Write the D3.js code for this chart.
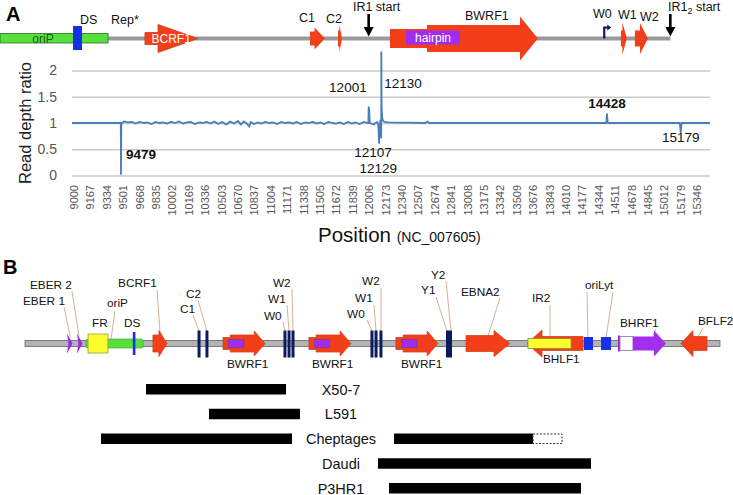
<!DOCTYPE html>
<html><head><meta charset="utf-8">
<script src="https://cdn.jsdelivr.net/npm/d3@7"></script>
<style>body{margin:0;background:#fff}svg{display:block}</style>
</head><body><svg id="c" width="733" height="495"></svg>
<script>
// ---------------- DATA ----------------
// Panel A: read depth ratio along NC_007605
const depthPos = [8980,9470,9477,9479,9482,9490,9510,9550,9590,9630,9670,9710,9750,9790,9830,9870,9910,9950,9990,10030,10070,10110,10150,10190,10230,10270,10310,10350,10390,10430,10470,10510,10550,10590,10630,10670,10700,10730,10760,10785,10800,10830,10870,10910,10950,10990,11030,11070,11110,11150,11190,11230,11270,11310,11350,11390,11430,11470,11510,11550,11590,11630,11670,11710,11750,11790,11830,11870,11910,11950,11990,11998,12001,12006,12012,12030,12050,12070,12090,12100,12107,12112,12120,12129,12130,12133,12138,12145,12160,12200,12580,12600,12620,14420,14428,14436,15170,15179,15188,15477];
const depthVal = [1.00,1.00,1.00,0.03,1.00,1.00,1.03,1.01,1.02,0.99,1.02,1.00,1.01,0.98,1.02,1.00,1.01,0.99,1.02,1.00,1.03,0.99,1.01,1.02,0.98,1.01,1.00,1.02,0.99,1.03,0.98,1.02,0.97,1.03,0.99,1.04,0.97,1.03,0.99,0.93,1.02,0.98,1.01,0.99,1.02,1.00,1.01,0.98,1.02,1.00,1.01,0.99,1.02,0.98,1.01,1.00,1.02,0.99,1.01,0.98,1.02,1.00,0.99,1.01,0.98,1.02,0.99,1.01,0.98,1.02,1.00,1.00,1.30,1.27,1.00,0.99,0.97,1.00,1.02,0.95,0.62,0.90,1.05,0.72,2.35,1.30,1.12,1.05,1.02,1.01,1.00,1.03,1.00,1.00,1.17,1.00,1.00,0.82,1.00,1.00];
const yTicks = [0, 0.5, 1, 1.5, 2];
const xTickLabels = [9000,9167,9334,9501,9668,9835,10002,10169,10336,10503,10670,10837,11004,11171,11338,11505,11672,11839,12006,12173,12340,12507,12674,12841,13008,13175,13342,13509,13676,13843,14010,14177,14344,14511,14678,14845,15012,15179,15346];
// peak annotations: label text, position, ratio of label baseline, anchor, bold
const peakLabels = [
  {t:"9479", p:9479, v:0.31, a:"start", b:true},
  {t:"12001", p:12001, v:1.59, a:"end", b:false},
  {t:"12130", p:12130, v:1.67, a:"start", b:false},
  {t:"12107", p:12107, v:0.35, a:"middle", b:false},
  {t:"12129", p:12129, v:0.05, a:"middle", b:false},
  {t:"14428", p:14428, v:1.29, a:"middle", b:true},
  {t:"15179", p:15179, v:0.64, a:"middle", b:false}
];
// Panel A genome map features (bp)
const mapA_oriP = [8247, 9347];
const mapA_DS = [8990, 9082];
const mapA_backbone = [9347, 15073];
const mapA_BCRF1 = [9723, 9856, 10263];        // start, head start, tip
const mapA_C1 = [11404, 11450, 11556];
const mapA_C2 = [11689, 11703, 11729];
const mapA_BWRF1 = [12218, 12595, 13542, 13725]; // stub start, body start, head start, tip
const mapA_hairpin = [12381, 12931];
const mapA_W0 = 14400;
const mapA_W1 = [14570, 14585, 14631];
const mapA_W2 = [14712, 14764, 14845];
const mapA_IRstarts = [12001, 15073];
const mapA_labels = [
  {t:"DS", p:9061, y:24}, {t:"Rep*", p:9377, y:24}, {t:"C1", p:11292, y:22}, {t:"C2", p:11566, y:23},
  {t:"BWRF1", p:12982, y:20}, {t:"W0", p:14285, y:18}, {t:"W1", p:14540, y:19}, {t:"W2", p:14764, y:21}
];
// Panel B genome map (kb)
const mapB_backbone = [0.42, 58.33];
const mapB_EBER = [4.13, 4.96];
const mapB_oriP = [5.5, 10.25];
const mapB_FR = [5.67, 7.33];
const mapB_DS = 9.5;
const mapB_BCRF1 = [11.08, 11.58, 12.25];
const mapB_Cp = [14.92, 15.58];
const mapB_BWRF1 = [16.92, 24.08, 31.33];
const mapB_W = [22.08, 22.42, 22.75, 29.33, 29.67, 30.08];
const mapB_Y = [35.5, 36.0];
const mapB_EBNA2 = [37.17, 39.5, 40.83];
const mapB_BHLF1 = [42.25, 43.5, 46.92];
const mapB_IR2 = [42.33, 45.92];
const mapB_oriLyt = [[47.0, 47.75], [48.42, 49.25]];
const mapB_BHRF1 = [49.83, 50.0, 51.08, 52.83, 53.83];
const mapB_BFLF2 = [55.08, 56.08, 57.25];
// Panel B labels: text, kb of text start, baseline, leader [kbTop, yTop, kbBottom, yBottom]
const mapB_labels = [
  {t:"EBER 2", k:0.83, y:289, l:[4.33,291,4.92,336]},
  {t:"EBER 1", k:0.25, y:305, l:[3.67,307,4.17,336]},
  {t:"BCRF1", k:8.17, y:287, l:[11.42,290,11.67,332]},
  {t:"oriP", k:7.25, y:307, l:[7.92,311,7.58,339]},
  {t:"FR", k:6.0, y:327}, {t:"DS", k:8.67, y:327},
  {t:"C2", k:13.83, y:298, l:[14.83,300,15.58,331]},
  {t:"C1", k:13.33, y:313, l:[14.42,315,14.92,331]},
  {t:"W2", k:21.08, y:287, l:[22.67,289,22.75,331]},
  {t:"W1", k:20.67, y:303, l:[22.25,305,22.42,331]},
  {t:"W0", k:20.33, y:320, l:[21.92,322,22.08,331]},
  {t:"W2", k:28.5, y:285, l:[30.08,288,30.08,331]},
  {t:"W1", k:27.92, y:302, l:[29.5,305,29.67,331]},
  {t:"W0", k:27.25, y:318, l:[28.92,320,29.33,331]},
  {t:"Y2", k:34.25, y:279, l:[35.5,281,35.92,331]},
  {t:"Y1", k:33.42, y:294, l:[34.67,297,35.58,331]},
  {t:"EBNA2", k:36.75, y:296, l:[40.0,298,39.0,336]},
  {t:"IR2", k:42.67, y:302, l:[44.17,305,44.17,337]},
  {t:"oriLyt", k:47.08, y:289, l:[47.25,292,47.33,338]},
  {t:"", k:0, y:0, l:[49.42,292,48.83,338]},
  {t:"BHRF1", k:50.0, y:327, l:[53.0,329,52.7,337]},
  {t:"BFLF2", k:56.5, y:325, l:[56.92,328,56.42,339]},
  {t:"BWRF1", k:17.25, y:368}, {t:"BWRF1", k:24.33, y:368}, {t:"BWRF1", k:31.75, y:368},
  {t:"BHLF1", k:43.58, y:363}
];
// Deleted regions per cell line (kb)
const cellLines = ["X50-7", "L591", "Cheptages", "Daudi", "P3HR1"];
const deletions = [[[10.5,22.17]], [[15.75,23.33]], [[6.75,22.67],[31.17,42.75]], [[29.83,47.58]], [[30.75,46.75]]];
const uncertain = [null, null, [42.75,45.17], null, null];

// ---------------- DRAW ----------------
const FONT = '"Liberation Sans", Arial, Helvetica, sans-serif';
const svg = d3.select("#c").style("font-family", FONT);
const RED = "#f23f1a", PURPLE = "#a02cf0", BLUE = "#1630e8", NAVY = "#0c1a60", GREEN = "#57e03c";

function arrowPts(x0, hs, x1, yc, bh, hh) { // rightward if x1>x0
  return [[x0,yc-bh],[hs,yc-bh],[hs,yc-hh],[x1,yc],[hs,yc+hh],[hs,yc+bh],[x0,yc+bh]];
}
const poly = (g, pts, fill, stroke, sw) => g.append("polygon").attr("points", pts.map(p=>p.join(",")).join(" "))
  .attr("fill", fill).attr("stroke", stroke || "none").attr("stroke-width", sw || 0.8);

// ---- Panel A
const x = d3.scaleLinear().domain([8980, 15477]).range([72, 710]);
const y = d3.scaleLinear().domain([0, 2]).range([175.5, 70.5]);

svg.append("text").attr("x", 6).attr("y", 21).attr("font-size", 20).attr("font-weight", "bold").text("A");

const gy = svg.append("g").attr("transform", "translate(72,0)")
  .call(d3.axisLeft(y).tickValues(yTicks).tickSize(-638).tickPadding(15).tickFormat(d => d));
gy.select(".domain").remove();
gy.selectAll(".tick line").attr("stroke", "#c9c9c9").attr("stroke-width", 1.4);
gy.selectAll(".tick text").attr("font-size", 14).attr("fill", "#555").attr("font-family", FONT);

svg.append("text").attr("transform", "translate(31,123) rotate(-90)").attr("text-anchor", "middle")
  .attr("font-size", 16.5).attr("fill", "#222").text("Read depth ratio");

svg.append("g").selectAll("text").data(xTickLabels).join("text")
  .attr("transform", d => `translate(${x(d)+4},185) rotate(-90)`).attr("text-anchor", "end")
  .attr("font-size", 11).attr("fill", "#555").text(d => d);

const axT = svg.append("text").attr("y", 242).attr("fill", "#111");
axT.append("tspan").attr("x", 318).attr("font-size", 20.5).text("Position ");
axT.append("tspan").attr("font-size", 14).text("(NC_007605)");

const series = depthPos.map((p, i) => [p, depthVal[i]]);
svg.append("path").datum(series).attr("fill", "none").attr("stroke", "#4a7ebb").attr("stroke-width", 1.8)
  .attr("stroke-linejoin", "round")
  .attr("d", d3.line().x(d => x(d[0])).y(d => y(d[1])));

const offs = {"9479":5, "12001":-2, "12130":3, "12107":-6, "12129":-3, "14428":0, "15179":0};
svg.append("g").selectAll("text").data(peakLabels).join("text")
  .attr("x", d => x(d.p) + offs[d.t]).attr("y", d => y(d.v)).attr("text-anchor", d => d.a)
  .attr("font-size", 13.5).attr("font-weight", d => d.b ? "bold" : "normal").attr("fill", "#111").text(d => d.t);

// map A
const ya = 38.5, gA = svg.append("g");
gA.append("rect").attr("x", x(mapA_backbone[0])).attr("y", ya-2).attr("width", x(mapA_backbone[1])-x(mapA_backbone[0]))
  .attr("height", 4).attr("fill", "#999");
gA.append("rect").attr("x", x(mapA_oriP[0])).attr("y", ya-5).attr("width", x(mapA_oriP[1])-x(mapA_oriP[0]))
  .attr("height", 9.5).attr("fill", GREEN).attr("stroke", "#2d6e22").attr("stroke-width", 0.8);
gA.append("text").attr("x", x(8685)).attr("y", 42.5).attr("text-anchor", "middle").attr("font-size", 12).attr("fill", "#1d5a1d").text("oriP");
gA.append("rect").attr("x", x(mapA_DS[0])).attr("y", 26).attr("width", x(mapA_DS[1])-x(mapA_DS[0])).attr("height", 24).attr("fill", BLUE);
poly(gA, arrowPts(x(mapA_BCRF1[0]), x(mapA_BCRF1[1]), x(mapA_BCRF1[2]), ya, 6, 14), RED, "#c8401c");
gA.append("text").attr("x", x(9990)).attr("y", 43).attr("text-anchor", "middle").attr("font-size", 12).attr("fill", "#fff").text("BCRF1");
poly(gA, arrowPts(x(mapA_C1[0]), x(mapA_C1[1]), x(mapA_C1[2]), ya, 7, 11), RED);
poly(gA, arrowPts(x(mapA_C2[0]), x(mapA_C2[1]), x(mapA_C2[2]), ya, 8, 14), RED);
// BWRF1
gA.append("rect").attr("x", x(mapA_BWRF1[0])).attr("y", ya-9.5).attr("width", x(mapA_BWRF1[1])-x(mapA_BWRF1[0])).attr("height", 19).attr("fill", RED);
poly(gA, arrowPts(x(mapA_BWRF1[1]), x(mapA_BWRF1[2]), x(mapA_BWRF1[3]), ya, 13.5, 22), RED);
gA.append("rect").attr("x", x(mapA_hairpin[0])).attr("y", ya-8).attr("width", x(mapA_hairpin[1])-x(mapA_hairpin[0])).attr("height", 14).attr("fill", PURPLE);
gA.append("text").attr("x", x(12656)).attr("y", 42).attr("text-anchor", "middle").attr("font-size", 12).attr("fill", "#fff").text("hairpin");
// W0 promoter flag
const w0 = x(mapA_W0);
gA.append("path").attr("d", `M${w0},${ya} V${ya-11} H${w0+4}`).attr("fill", "none").attr("stroke", NAVY).attr("stroke-width", 2.2);
poly(gA, [[w0+3,ya-14],[w0+7,ya-11],[w0+3,ya-8]], NAVY);
poly(gA, arrowPts(x(mapA_W1[0]), x(mapA_W1[1]), x(mapA_W1[2]), ya, 8, 16), RED);
poly(gA, arrowPts(x(mapA_W2[0]), x(mapA_W2[1]), x(mapA_W2[2]), ya, 8, 15.5), RED);
// IR1 start arrows
mapA_IRstarts.forEach(p => {
  const xx = x(p);
  gA.append("line").attr("x1", xx).attr("x2", xx).attr("y1", 14).attr("y2", 29).attr("stroke", "#000").attr("stroke-width", 2.6);
  poly(gA, [[xx-5,27],[xx+5,27],[xx,36.5]], "#000");
});
const t1 = gA.append("text").attr("x", x(11841)).attr("y", 11).attr("font-size", 12.5).attr("fill", "#111").text("IR1 start");
const t2 = gA.append("text").attr("x", x(15049)).attr("y", 11).attr("font-size", 12.5).attr("fill", "#111");
t2.append("tspan").text("IR1");
t2.append("tspan").attr("font-size", 9).attr("dy", 3).text("2");
t2.append("tspan").attr("dy", -3).text(" start");
gA.append("g").selectAll("text").data(mapA_labels).join("text")
  .attr("x", d => x(d.p)).attr("y", d => d.y).attr("font-size", 12.5).attr("fill", "#111").text(d => d.t);

// ---- Panel B
const xb = d3.scaleLinear().domain([0, 60]).range([20, 740]);
const yb = 343.5, gB = svg.append("g");
svg.append("text").attr("x", 3).attr("y", 274).attr("font-size", 20).attr("font-weight", "bold").text("B");

// leaders and labels
mapB_labels.forEach(d => {
  if (d.l) gB.append("line").attr("x1", xb(d.l[0])).attr("y1", d.l[1]).attr("x2", xb(d.l[2])).attr("y2", d.l[3])
    .attr("stroke", "#cfa886").attr("stroke-width", 0.9);
  if (d.t) gB.append("text").attr("x", xb(d.k)).attr("y", d.y).attr("font-size", 11.8).attr("fill", "#111").text(d.t);
});

gB.append("rect").attr("x", xb(mapB_backbone[0])).attr("y", yb-3).attr("width", xb(mapB_backbone[1])-xb(mapB_backbone[0]))
  .attr("height", 6).attr("fill", "#b4b4b4").attr("stroke", "#707070").attr("stroke-width", 0.9);
mapB_EBER.forEach(k => { const c = xb(k); poly(gB, [[c-2.5,yb-10],[c+3,yb],[c-2.5,yb+10],[c-1.2,yb]], "#9a2ee8"); });
gB.append("rect").attr("x", xb(mapB_oriP[0])).attr("y", yb-4.5).attr("width", xb(mapB_oriP[1])-xb(mapB_oriP[0])).attr("height", 9)
  .attr("rx", 2).attr("fill", GREEN).attr("stroke", "#3a9a2a").attr("stroke-width", 0.6);
gB.append("rect").attr("x", xb(mapB_FR[0])).attr("y", yb-9.5).attr("width", xb(mapB_FR[1])-xb(mapB_FR[0])).attr("height", 19)
  .attr("fill", "#ffff2e").attr("stroke", "#9a9a3a").attr("stroke-width", 0.8);
gB.append("rect").attr("x", xb(mapB_DS)-1.2).attr("y", yb-11.5).attr("width", 2.6).attr("height", 23).attr("fill", BLUE);
poly(gB, arrowPts(xb(mapB_BCRF1[0]), xb(mapB_BCRF1[1]), xb(mapB_BCRF1[2]), yb, 8.5, 13), RED, "#d8401a");
mapB_Cp.forEach(k => gB.append("rect").attr("x", xb(k)-1.5).attr("y", yb-13).attr("width", 3).attr("height", 27).attr("fill", NAVY));
mapB_BWRF1.forEach(k => {
  gB.append("rect").attr("x", xb(k)).attr("y", yb-6).attr("width", xb(k+0.8)-xb(k)).attr("height", 12)
    .attr("fill", RED).attr("stroke", "#a0502a").attr("stroke-width", 0.8);
  poly(gB, arrowPts(xb(k+0.6), xb(k+2.6), xb(k+3.5), yb, 8.5, 12.5), RED, "#d8401a");
  gB.append("rect").attr("x", xb(k+0.45)).attr("y", yb-4).attr("width", xb(k+1.75)-xb(k+0.45)).attr("height", 8)
    .attr("fill", PURPLE).attr("stroke", "#7a3a8a").attr("stroke-width", 0.6);
});
mapB_W.forEach(k => gB.append("rect").attr("x", xb(k)-1.5).attr("y", yb-13).attr("width", 3).attr("height", 27).attr("fill", NAVY));
gB.append("rect").attr("x", xb(mapB_Y[0])).attr("y", yb-13).attr("width", xb(mapB_Y[1])-xb(mapB_Y[0])).attr("height", 27).attr("fill", NAVY);
poly(gB, arrowPts(xb(mapB_EBNA2[0]), xb(mapB_EBNA2[1]), xb(mapB_EBNA2[2]), yb, 8, 13), RED, "#d8401a");
poly(gB, arrowPts(xb(mapB_BHLF1[2]), xb(mapB_BHLF1[1]), xb(mapB_BHLF1[0]), yb, 7, 13.5), RED, "#d8401a");
gB.append("rect").attr("x", xb(mapB_IR2[0])).attr("y", yb-5).attr("width", xb(mapB_IR2[1])-xb(mapB_IR2[0])).attr("height", 10)
  .attr("fill", "#ffff2e").attr("stroke", "#8a8a30").attr("stroke-width", 0.8);
mapB_oriLyt.forEach(r => gB.append("rect").attr("x", xb(r[0])).attr("y", yb-6.5).attr("width", xb(r[1])-xb(r[0])).attr("height", 13).attr("fill", BLUE));
gB.append("rect").attr("x", xb(mapB_BHRF1[0])).attr("y", yb-8).attr("width", xb(mapB_BHRF1[1])-xb(mapB_BHRF1[0])).attr("height", 16).attr("fill", "#8a2ad8");
gB.append("rect").attr("x", xb(mapB_BHRF1[1])).attr("y", yb-7).attr("width", xb(mapB_BHRF1[2])-xb(mapB_BHRF1[1])).attr("height", 14)
  .attr("fill", "#fff").attr("stroke", "#9c82b8").attr("stroke-width", 0.9);
poly(gB, arrowPts(xb(mapB_BHRF1[2]), xb(mapB_BHRF1[3]), xb(mapB_BHRF1[4]), yb, 7, 13), "#a32ef0");
poly(gB, arrowPts(xb(mapB_BFLF2[2]), xb(mapB_BFLF2[1]), xb(mapB_BFLF2[0]), yb, 7, 13), RED, "#d8401a");

// deletion bars
const rowY = d3.scalePoint().domain(cellLines).range([389, 488]);
cellLines.forEach((name, i) => {
  const cy = rowY(name);
  deletions[i].forEach(r => gB.append("rect").attr("x", xb(r[0])).attr("y", cy-5).attr("width", xb(r[1])-xb(r[0])).attr("height", 10.5).attr("fill", "#000"));
  if (uncertain[i]) gB.append("rect").attr("x", xb(uncertain[i][0])).attr("y", cy-4.5).attr("width", xb(uncertain[i][1])-xb(uncertain[i][0])).attr("height", 9.5)
    .attr("fill", "none").attr("stroke", "#333").attr("stroke-width", 1).attr("stroke-dasharray", "2,1.5");
  gB.append("text").attr("x", xb(26.75)).attr("y", cy+5.5).attr("text-anchor", "middle").attr("font-size", 14.5).attr("fill", "#111").text(name);
});
</script></body></html>
